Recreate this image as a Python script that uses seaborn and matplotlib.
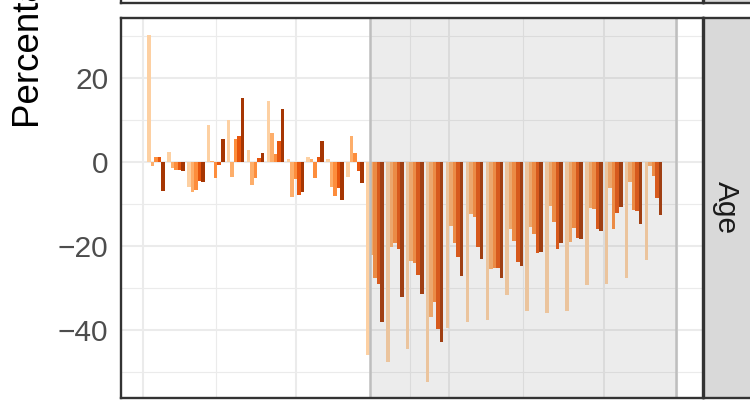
import numpy as np
import pandas as pd
import matplotlib
matplotlib.use("Agg")
import matplotlib.pyplot as plt
import seaborn as sns

# Weekly percentage change by age band
weeks = list(range(1, 27))
age_bands = ["0-14", "15-44", "45-64", "65-74", "75+"]
band_colors = ["#FDD0A2", "#FDAE6B", "#FD8D3C", "#E6550D", "#A63603"]

pct_0_14 = [30.3, 2.4, -5.9, 8.7, 10.1, 2.8, 14.6, 0.6, 1.3, 0.6, -3.6, -46.0, -47.6,
            -44.5, -52.4, -39.5, -38.1, -37.6, -31.7, -35.5, -36.0, -35.5, -29.3, -29.0,
            -27.6, -23.3]
pct_15_44 = [-0.9, -1.4, -7.1, 0.2, -3.6, -5.5, 7.0, -8.3, 0.6, -5.9, 6.1, -22.1, -20.2,
             -23.6, -36.9, -15.2, -12.4, -25.5, -16.0, -15.5, -10.5, -19.0, -11.0, -6.2,
             -4.8, -1.0]
pct_45_64 = [1.1, -1.9, -6.6, -3.8, 5.4, -3.9, 1.8, -4.0, -3.8, -8.1, 2.1, -27.6, -19.3,
             -24.0, -33.3, -19.3, -13.1, -25.2, -18.8, -17.1, -14.3, -15.7, -11.2, -15.9,
             -11.4, -3.3]
pct_65_74 = [1.3, -1.9, -4.5, -0.7, 6.1, 0.9, 4.9, -7.8, 1.1, -6.2, -2.1, -29.0, -20.7,
             -26.9, -39.8, -22.6, -20.2, -25.2, -23.8, -21.7, -20.7, -18.1, -15.9, -12.1,
             -11.7, -8.6]
pct_75_plus = [-6.9, -2.1, -4.7, 5.4, 15.3, 2.1, 12.7, -7.1, 5.1, -9.0, -5.0, -38.1, -32.1,
               -31.4, -42.9, -27.1, -23.1, -27.6, -24.8, -21.4, -19.3, -18.3, -16.4, -10.7,
               -14.8, -12.6]

y_ticks = [-40, -20, 0, 20]
y_minor = [-50, -30, -10, 10, 30]

df = pd.DataFrame({
    "week": np.tile(weeks, len(age_bands)),
    "age": np.repeat(age_bands, len(weeks)),
    "pct": pct_0_14 + pct_15_44 + pct_45_64 + pct_65_74 + pct_75_plus,
})

sns.set_style("white")
plt.rcParams["font.family"] = ["Liberation Sans", "DejaVu Sans"]

W, H = 750, 401
fig = plt.figure(figsize=(W / 100, H / 100), dpi=100)

def fx(px):
    return px / W

def fy(py):
    return 1 - py / H

dark = "#333333"

# main panel
ax = fig.add_axes([fx(121), fy(398), fx(582), (398 - 18) / H])
sns.barplot(data=df, x="week", y="pct", hue="age", order=weeks, hue_order=age_bands,
            palette=band_colors, width=0.88, saturation=1, errorbar=None,
            legend=False, ax=ax, zorder=2, linewidth=0)

# data coordinates from group index (0 = first week)
x_lo, x_hi = -1.761, 27.485
ax.set_xlim(x_lo, x_hi)
ax.set_ylim(-56.19, 34.29)

x_major = [-0.656, 7.032, 14.721, 22.51]
x_minor = [3.013, 10.751, 12.761, 18.44, 26.178]
ax.set_xticks(x_major)
ax.set_xticks(x_minor, minor=True)
ax.set_xticklabels([])
ax.set_yticks(y_ticks)
ax.set_yticks(y_minor, minor=True)
ax.set_yticklabels([f"{v}" if v >= 0 else f"\u2212{abs(v)}" for v in y_ticks])

ax.set_axisbelow(True)
ax.grid(which="major", color="#EBEBEB", linewidth=1.45)
ax.grid(which="minor", color="#EBEBEB", linewidth=0.85)
ax.tick_params(axis="both", which="major", length=5, width=1.4, color=dark,
               labelsize=21.5, labelcolor="#4D4D4D", pad=4)
ax.tick_params(axis="both", which="minor", length=0)
ax.set_xlabel("")
ax.set_ylabel("")
for s in ax.spines.values():
    s.set_color(dark)
    s.set_linewidth(1.7)
    s.set_zorder(6)

# shaded period drawn over the bars
ax.axvspan(10.736, 26.13, facecolor="#7F7F7F", alpha=0.14, edgecolor="none", zorder=3)
for xv in (10.736, 26.13):
    ax.axvline(xv, color="#BEBEBE", linewidth=1.8, zorder=4)

# facet strip on the right
strip = fig.add_axes([fx(703.5), fy(398), fx(60), (398 - 18) / H])
strip.set_facecolor("#D9D9D9")
strip.set_xticks([])
strip.set_yticks([])
for s in strip.spines.values():
    s.set_color(dark)
    s.set_linewidth(1.7)
strip.text((726 - 703.5) / 60, 0.5, "Age", rotation=-90, ha="center", va="center",
           fontsize=21.5, color="#1A1A1A", transform=strip.transAxes)

# panel and strip of the row above
top = fig.add_axes([fx(121), fy(2.7), fx(582), 0.1])
top.set_facecolor("white")
top.set_xticks([])
top.set_yticks([])
for s in top.spines.values():
    s.set_color(dark)
    s.set_linewidth(1.7)
top_strip = fig.add_axes([fx(703.5), fy(2.7), fx(60), 0.1])
top_strip.set_facecolor("#D9D9D9")
top_strip.set_xticks([])
top_strip.set_yticks([])
for s in top_strip.spines.values():
    s.set_color(dark)
    s.set_linewidth(1.7)

fig.text(fx(30), fy(128), "Percentage change", rotation=90, ha="center", va="bottom",
         fontsize=26.5, color="black")

fig.savefig("out.png", dpi=100)
